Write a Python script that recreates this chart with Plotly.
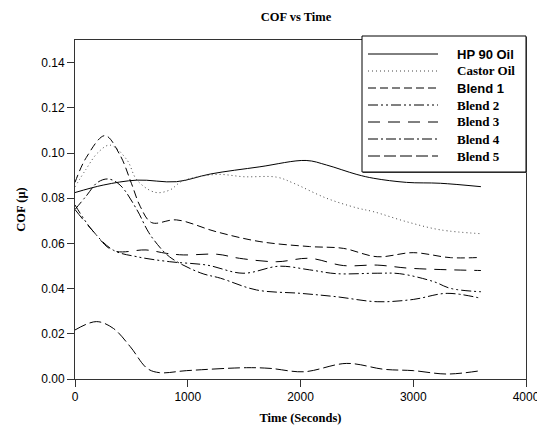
import plotly.graph_objects as go

# ---- data ----
hp90_t = [0, 250, 550, 900, 1200, 1640, 2050, 2230, 2500, 2650, 2940, 3240, 3600]
hp90_v = [0.0825, 0.0858, 0.0880, 0.0873, 0.0907, 0.0939, 0.0967, 0.0947, 0.0905, 0.0888, 0.0870, 0.0866, 0.0851]

castor_t = [0, 100, 200, 310, 460, 550, 710, 840, 950, 1250, 1500, 1790, 1940, 2230, 2500, 2650, 2940, 3240, 3600]
castor_v = [0.085, 0.093, 0.100, 0.1035, 0.097, 0.088, 0.0826, 0.0836, 0.0875, 0.0905, 0.0895, 0.0893, 0.0866, 0.080, 0.0757, 0.074, 0.0696, 0.066, 0.0643]

blend1_t = [0, 100, 266, 400, 500, 580, 680, 900, 1250, 1640, 2080, 2380, 2680, 3000, 3330, 3600]
blend1_v = [0.087, 0.098, 0.1077, 0.099, 0.0866, 0.0762, 0.0692, 0.0704, 0.0652, 0.0608, 0.0586, 0.0578, 0.0541, 0.0559, 0.0537, 0.0538]

blend2_t = [0, 150, 340, 550, 840, 1170, 1490, 1810, 2080, 2320, 2680, 2880, 3180, 3330, 3600]
blend2_v = [0.077, 0.066, 0.057, 0.0541, 0.0519, 0.0504, 0.0468, 0.0499, 0.0483, 0.0466, 0.0468, 0.0466, 0.0431, 0.0401, 0.0386]

blend3_t = [0, 150, 340, 630, 810, 960, 1260, 1460, 1790, 2080, 2380, 2680, 2970, 3600]
blend3_v = [0.075, 0.066, 0.0568, 0.0571, 0.0556, 0.0549, 0.0552, 0.0534, 0.0519, 0.0534, 0.0502, 0.0504, 0.049, 0.048]

blend4_t = [0, 100, 200, 296, 400, 550, 640, 700, 840, 1110, 1290, 1610, 2000, 2320, 2680, 3000, 3300, 3600]
blend4_v = [0.075, 0.081, 0.087, 0.0885, 0.0858, 0.0748, 0.066, 0.0615, 0.054, 0.047, 0.0446, 0.0394, 0.0379, 0.0364, 0.0342, 0.0352, 0.0379, 0.0357]

blend5_t = [0, 190, 340, 490, 640, 750, 990, 1520, 1730, 2030, 2410, 2740, 3000, 3300, 3600]
blend5_v = [0.0217, 0.0254, 0.0224, 0.0143, 0.0047, 0.0028, 0.0037, 0.005, 0.0047, 0.0032, 0.0069, 0.0043, 0.0037, 0.0022, 0.0037]

series_names = ["HP 90 Oil", "Castor Oil", "Blend 1", "Blend 2", "Blend 3", "Blend 4", "Blend 5"]

SANS = "Liberation Sans, Arial, sans-serif"
SERIF = "Liberation Serif, Times New Roman, serif"

styles = [
    ("solid", "#000", SANS),
    ("1px,3px", "#444", SERIF),
    ("8px,4px", "#000", SANS),
    ("10px,3px,2px,3px,2px,3px", "#000", SERIF),
    ("12px,8px", "#000", SERIF),
    ("10px,3px,2px,3px", "#000", SERIF),
    ("12px,4px", "#000", SERIF),
]
data = [(hp90_t, hp90_v), (castor_t, castor_v), (blend1_t, blend1_v), (blend2_t, blend2_v),
        (blend3_t, blend3_v), (blend4_t, blend4_v), (blend5_t, blend5_v)]

# page has an 8px body margin; figure is sized so it ends at the window edge
OFF = 8
W, H = 545 - OFF, 432 - OFF
ML, MR, MT, MB = 75 - OFF, 19, 40 - OFF, 53
PW, PH = W - ML - MR, H - MT - MB

def px_x(px):  # page pixel -> paper
    return (px - OFF - ML) / PW

def px_y(py):
    return (H - MB - (py - OFF)) / PH

fig = go.Figure()
for name, (t, v), (dash, col, fam) in zip(series_names, data, styles):
    fig.add_trace(go.Scatter(x=t, y=v, mode="lines", name=name, showlegend=False,
                             line=dict(color=col, width=1, dash=dash, shape="spline", smoothing=1.0)))

# ---- legend box (drawn as layout shapes + text) ----
shapes = [dict(type="rect", xref="paper", yref="paper",
               x0=px_x(363), x1=px_x(527), y0=px_y(173), y1=px_y(37),
               fillcolor="#555", line=dict(width=0), layer="above"),
          dict(type="rect", xref="paper", yref="paper",
               x0=px_x(362), x1=px_x(526), y0=px_y(172), y1=px_y(36),
               fillcolor="white", line=dict(color="#000", width=1), layer="above")]
annotations = []
row0, rowstep = 54, 17
for i, (name, (dash, col, fam)) in enumerate(zip(series_names, styles)):
    ry = row0 + i * rowstep
    shapes.append(dict(type="line", xref="paper", yref="paper",
                       x0=px_x(368), x1=px_x(438), y0=px_y(ry), y1=px_y(ry),
                       line=dict(color=col, width=1, dash=dash), layer="above"))
    annotations.append(dict(xref="paper", yref="paper", x=px_x(455), y=px_y(ry),
                            xanchor="left", yanchor="middle", showarrow=False,
                            text="<b>%s</b>" % name,
                            font=dict(family=fam, size=13, color="#000")))

axis_common = dict(showline=True, linecolor="#333", linewidth=1, mirror=True,
                   ticks="outside", ticklen=7, tickcolor="#333", showgrid=False,
                   zeroline=False, automargin=False,
                   tickfont=dict(family=SANS, size=12, color="#000"))

fig.update_layout(
    width=W, height=H, autosize=False,
    margin=dict(l=ML, r=MR, t=MT, b=MB),
    paper_bgcolor="white", plot_bgcolor="white",
    title=dict(text="<b>COF vs Time</b>", x=(296 - OFF) / W, xanchor="center",
               y=1 - (17 - OFF) / H, yanchor="middle", yref="container",
               font=dict(family=SERIF, size=12.5, color="#000"), automargin=False),
    xaxis=dict(range=[0, 4000], dtick=1000, tick0=0,
               title=dict(text="<b>Time (Seconds)</b>", font=dict(family=SERIF, size=12.5, color="#000"), standoff=9),
               **axis_common),
    yaxis=dict(range=[0, 0.15], dtick=0.02, tick0=0, tickformat=".2f",
               title=dict(text="<b>COF (μ)</b>", font=dict(family=SERIF, size=12.5, color="#000"), standoff=12),
               **axis_common),
    shapes=shapes,
    annotations=annotations,
    showlegend=False,
)

fig.write_html("out.html")
